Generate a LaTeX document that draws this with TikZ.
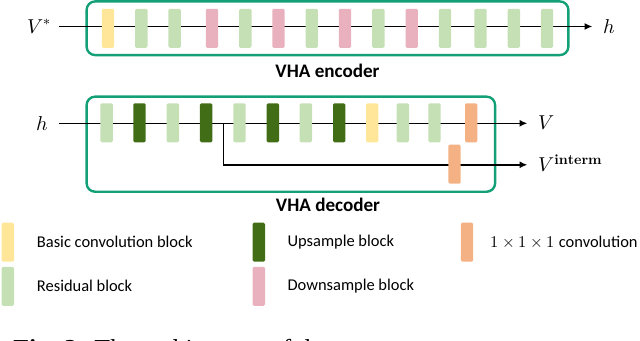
\documentclass[tikz,border=0pt]{standalone}
\usepackage{fontspec}
\usepackage{unicode-math}
\setsansfont{Carlito}
\newfontfamily\capfont{Liberation Serif}
\usetikzlibrary{positioning,arrows.meta}
\definecolor{vhagreen}{HTML}{14A076}
\definecolor{vhabasic}{HTML}{FFE699}
\definecolor{vhares}{HTML}{C5E0B4}
\definecolor{vhadown}{HTML}{E9B1BE}
\definecolor{vhaup}{HTML}{416D16}
\definecolor{vhaconv}{HTML}{F4B183}

\begin{document}
\begin{tikzpicture}[x=0.025cm,y=-0.025cm,
    blk/.style={rectangle,rounded corners=1pt,minimum width=0.31cm,
                minimum height=0.975cm,inner sep=0pt},
    vbox/.style={rectangle,rounded corners=6pt,draw=vhagreen,
                 line width=1.7pt,inner sep=0pt},
    flow/.style={line width=1pt,-{Latex[length=5.5pt,width=5pt]}},
    lbl/.style={font=\fontsize{14.3}{16}\selectfont,inner sep=0pt},
    vhatitle/.style={font=\sffamily\bfseries\fontsize{13.6}{16}\selectfont,
                     inner sep=0pt},
    legtxt/.style={font=\sffamily\fontsize{11.7}{14}\selectfont,
                   anchor=west,inner sep=0pt},
  ]
    \useasboundingbox (0,0) rectangle (640,341);

    % encoder frame, its line and the labels at both ends
    \node[vbox,minimum width=12.04cm,minimum height=1.34cm] (enc) at (327.5,28.25) {};
    \node[vhatitle] (enctitle) at (327.5,71) {VHA encoder};
    \coordinate (encin)  at (59,26.5);
    \coordinate (encout) at (592.3,26.5);
    \node[lbl,anchor=east] (vstar) at (52,26.5) {$V^*$};
    \node[lbl,anchor=west] (hout)  at (603,27) {$h$};
    \draw[flow] (encin) -- (encout);

    % encoder blocks
    \node[blk,fill=vhabasic] (e1)  at (108,28.3) {};
    \node[blk,fill=vhares]   (e2)  at (141.3,28.3) {};
    \node[blk,fill=vhares]   (e3)  at (174.7,28.3) {};
    \node[blk,fill=vhadown]  (e4)  at (212,28.3) {};
    \node[blk,fill=vhares]   (e5)  at (245.3,28.3) {};
    \node[blk,fill=vhadown]  (e6)  at (278.5,28.3) {};
    \node[blk,fill=vhares]   (e7)  at (311.7,28.3) {};
    \node[blk,fill=vhadown]  (e8)  at (345,28.3) {};
    \node[blk,fill=vhares]   (e9)  at (378.3,28.3) {};
    \node[blk,fill=vhadown]  (e10) at (411.7,28.3) {};
    \node[blk,fill=vhares]   (e11) at (445,28.3) {};
    \node[blk,fill=vhares]   (e12) at (480.5,28.3) {};
    \node[blk,fill=vhares]   (e13) at (513.8,28.3) {};
    \node[blk,fill=vhares]   (e14) at (547,28.3) {};

    % decoder frame, main line and the side branch
    \node[vbox,minimum width=10.21cm,minimum height=2.375cm] (dec) at (290.85,144.2) {};
    \node[vhatitle] (dectitle) at (328,205) {VHA decoder};
    \coordinate (decin)  at (59,123.3);
    \coordinate (decout) at (527.3,123.3);
    \coordinate (split)  at (223.3,123.3);
    \coordinate (intout) at (527.3,164.8);
    \node[lbl,anchor=east] (hin)  at (48,123.3) {$h$};
    \node[lbl,anchor=west] (vout) at (538,123.3) {$V$};
    \node[lbl,anchor=base west] (vint) at (538,171.5) {$V^{\mathbf{interm}}$};
    \draw[flow] (decin) -- (decout);
    \draw[flow] (split) |- (intout);

    % decoder blocks
    \node[blk,fill=vhares]   (d1)  at (106.7,122.8) {};
    \node[blk,fill=vhaup]    (d2)  at (139.5,122.8) {};
    \node[blk,fill=vhares]   (d3)  at (172.8,122.8) {};
    \node[blk,fill=vhaup]    (d4)  at (206.2,122.8) {};
    \node[blk,fill=vhares]   (d5)  at (239.5,122.8) {};
    \node[blk,fill=vhaup]    (d6)  at (272.8,122.8) {};
    \node[blk,fill=vhares]   (d7)  at (305.8,122.8) {};
    \node[blk,fill=vhaup]    (d8)  at (339.2,122.8) {};
    \node[blk,fill=vhabasic] (d9)  at (372.2,122.8) {};
    \node[blk,fill=vhares]   (d10) at (402.8,122.8) {};
    \node[blk,fill=vhares]   (d11) at (434.5,122.8) {};
    \node[blk,fill=vhaconv]  (d12) at (471.2,122.8) {};
    \node[blk,fill=vhaconv]  (dint) at (454.5,164.2) {};

    % legend
    \node[blk,fill=vhabasic] (kbasic) at (7.8,242.2) {};
    \node[blk,fill=vhares]   (kres)   at (7.8,286.3) {};
    \node[blk,fill=vhaup]    (kup)    at (258.8,242.2) {};
    \node[blk,fill=vhadown]  (kdown)  at (258.8,286.3) {};
    \node[blk,fill=vhaconv]  (kconv)  at (467,242.2) {};
    \node[legtxt] (tbasic) at (36.7,241.7) {Basic convolution block};
    \node[legtxt] (tres)   at (36.7,286) {Residual block};
    \node[legtxt] (tup)    at (287.3,241.7) {Upsample block};
    \node[legtxt] (tdown)  at (287.3,286) {Downsample block};
    \node[legtxt] (tconv)  at (490,241.7) {$1\times1\times1$ convolution};

    % caption, cut by the lower edge
    \node[anchor=base west,inner sep=0pt,font=\capfont\fontsize{18.4}{22}\selectfont]
      (caption) at (13,357) {\textbf{Fig. 2:} The architecture of the};
  \end{tikzpicture}
\end{document}
